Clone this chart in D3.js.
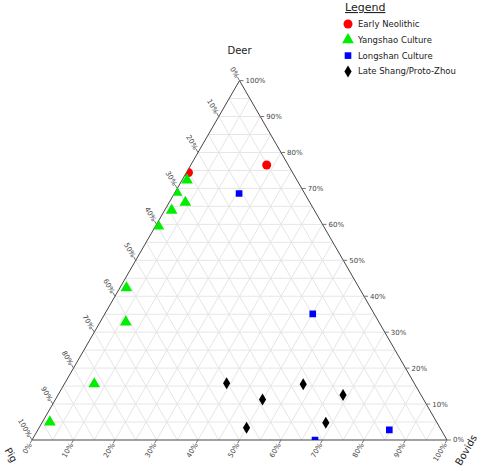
<!DOCTYPE html>
<html>
<head>
<meta charset="utf-8">
<script src="https://cdn.jsdelivr.net/npm/d3@7"></script>
<style>
  body { margin: 0; background: #fff; }
  svg { font-family: "DejaVu Sans", Verdana, sans-serif; }
</style>
</head>
<body>
<div id="chart"></div>
<script>
// values are [deer, pig, bovids] in percent
const earlyNeolithic = [
  [76.5, 5.2, 18.3],
  [74.4, 25.1, 0.5]
];
const yangshao = [
  [72.3, 26.5, 1.2],
  [68.9, 30.7, 0.4],
  [66.1, 30.0, 3.9],
  [63.9, 34.4, 1.7],
  [59.5, 39.8, 0.7],
  [42.3, 56.1, 1.6],
  [32.8, 61.0, 6.2],
  [15.6, 77.2, 7.2],
  [5.0, 93.2, 1.8]
];
const longshan = [
  [68.6, 15.8, 15.6],
  [35.1, 14.8, 50.1],
  [0.0, 31.8, 68.2],
  [2.8, 12.5, 84.7]
];
const lateShang = [
  [15.8, 45.2, 39.0],
  [15.5, 26.9, 57.6],
  [11.3, 38.8, 49.9],
  [12.5, 18.8, 68.7],
  [4.8, 26.8, 68.4],
  [3.4, 46.6, 50.0]
];
const groupNames = ['Early Neolithic', 'Yangshao Culture', 'Longshan Culture', 'Late Shang/Proto-Zhou'];
const tickValues = d3.range(0, 101, 10);
const gridValues = d3.range(5, 100, 5);

const width = 484, height = 471;

const svg = d3.select('#chart').append('svg')
  .attr('width', width)
  .attr('height', height);

// triangle corners: left (pig), right (bovids), top (deer)
const xScale = d3.scaleLinear().domain([0, 100]).range([32, 447]);
const yScale = d3.scaleLinear().domain([0, 100]).range([440, 80.6]);

// deer, bovids -> screen
function project(deer, bov) {
  return [xScale(bov + deer / 2), yScale(deer)];
}

const L = project(0, 0), R = project(0, 100), T = project(100, 0);

// clip for markers
svg.append('clipPath').attr('id', 'tri')
  .append('path')
  .attr('d', `M${L}L${R}L${T}Z`);

// grid lines
const grid = svg.append('g')
  .attr('stroke', '#e6e6e6')
  .attr('stroke-width', 1)
  .attr('fill', 'none');

gridValues.forEach(v => {
  // deer constant
  grid.append('line')
    .attr('x1', project(v, 0)[0]).attr('y1', project(v, 0)[1])
    .attr('x2', project(v, 100 - v)[0]).attr('y2', project(v, 100 - v)[1]);
  // pig constant
  grid.append('line')
    .attr('x1', project(100 - v, 0)[0]).attr('y1', project(100 - v, 0)[1])
    .attr('x2', project(0, 100 - v)[0]).attr('y2', project(0, 100 - v)[1]);
  // bovids constant
  grid.append('line')
    .attr('x1', project(0, v)[0]).attr('y1', project(0, v)[1])
    .attr('x2', project(100 - v, v)[0]).attr('y2', project(100 - v, v)[1]);
});

// triangle outline
svg.append('path')
  .attr('d', `M${L}L${R}L${T}Z`)
  .attr('fill', 'none')
  .attr('stroke', '#444')
  .attr('stroke-width', 1);

// ticks and labels
const tickLen = 4;
const ticks = svg.append('g').attr('stroke', '#777').attr('stroke-width', 1);
const labels = svg.append('g')
  .attr('font-size', 7)
  .attr('fill', '#444');

tickValues.forEach(v => {
  // right side: deer
  let p = project(v, 100 - v);
  ticks.append('line')
    .attr('x1', p[0]).attr('y1', p[1])
    .attr('x2', p[0] + tickLen).attr('y2', p[1]);
  labels.append('text')
    .attr('x', p[0] + tickLen + 2)
    .attr('y', p[1])
    .attr('dy', '0.35em')
    .text(v + '%');

  // left side: pig
  p = project(100 - v, 0);
  const lx = p[0] - tickLen * 0.5, ly = p[1] - tickLen * 0.866;
  ticks.append('line')
    .attr('x1', p[0]).attr('y1', p[1])
    .attr('x2', lx).attr('y2', ly);
  labels.append('text')
    .attr('transform', `translate(${lx},${ly}) rotate(60)`)
    .attr('text-anchor', 'end')
    .attr('dy', '0.35em')
    .text(v + '%');

  // bottom: bovids
  p = project(0, v);
  const bx = p[0] - tickLen * 0.5, by = p[1] + tickLen * 0.866;
  ticks.append('line')
    .attr('x1', p[0]).attr('y1', p[1])
    .attr('x2', bx).attr('y2', by);
  labels.append('text')
    .attr('transform', `translate(${bx},${by}) rotate(-60)`)
    .attr('text-anchor', 'end')
    .attr('dy', '0.35em')
    .text(v + '%');
});

// axis titles
svg.append('text')
  .attr('x', T[0]).attr('y', 54)
  .attr('text-anchor', 'middle')
  .attr('font-size', 10)
  .attr('fill', '#222')
  .text('Deer');

svg.append('text')
  .attr('transform', 'translate(11,455) rotate(60)')
  .attr('text-anchor', 'middle')
  .attr('dy', '0.35em')
  .attr('font-size', 10)
  .attr('fill', '#222')
  .text('Pig');

svg.append('text')
  .attr('transform', 'translate(466,450) rotate(-60)')
  .attr('text-anchor', 'middle')
  .attr('dy', '0.35em')
  .attr('font-size', 10)
  .attr('fill', '#222')
  .text('Bovids');

// marker shapes
const shapes = [
  { color: '#ff0000', path: d3.symbol(d3.symbolCircle, 64)() },
  { color: '#00ee00', path: d3.symbol(d3.symbolTriangle, 60)() },
  { color: '#0000ff', path: d3.symbol(d3.symbolSquare, 44)() },
  { color: '#000000', path: 'M0,-6L3.6,0L0,6L-3.6,0Z' }
];

const groups = [earlyNeolithic, yangshao, longshan, lateShang];

const marks = svg.append('g').attr('clip-path', 'url(#tri)');

groups.forEach((data, i) => {
  marks.selectAll(null)
    .data(data)
    .enter().append('path')
    .attr('d', shapes[i].path)
    .attr('fill', shapes[i].color)
    .attr('transform', d => {
      const p = project(d[0], d[2]);
      return `translate(${p[0]},${p[1]})`;
    });
});

// legend
const legend = svg.append('g');
legend.append('text')
  .attr('x', 345).attr('y', 11)
  .attr('font-size', 11)
  .attr('fill', '#222')
  .attr('text-decoration', 'underline')
  .text('Legend');

groupNames.forEach((name, i) => {
  const y = 24 + i * 15.8;
  legend.append('path')
    .attr('d', shapes[i].path)
    .attr('fill', shapes[i].color)
    .attr('transform', `translate(348,${y})`);
  legend.append('text')
    .attr('x', 358).attr('y', y)
    .attr('dy', '0.35em')
    .attr('font-size', 8.5)
    .attr('fill', '#222')
    .text(name);
});
</script>
</body>
</html>
